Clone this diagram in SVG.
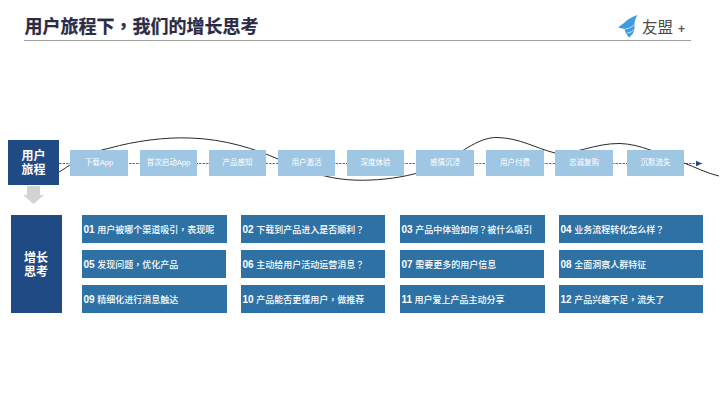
<svg xmlns="http://www.w3.org/2000/svg" width="720" height="405" viewBox="0 0 720 405">
<style>
text{font-family:"Liberation Sans","Noto Sans CJK SC",sans-serif}
.step rect{fill:#9fc7e3}
.step text{fill:#fff;font-size:7.5px;text-anchor:middle}
.q rect{fill:#2e72a5}
.q text{fill:#fff;font-size:9px;font-weight:500}
.q .n{font-weight:700;font-size:10px}
.p{font-family:"Noto Sans CJK TC",sans-serif}
.side rect{fill:#1f4a84}
.side text{fill:#fff;font-size:12px;font-weight:700;text-anchor:middle}
</style>
<defs>
<marker id="arr" markerUnits="userSpaceOnUse" markerWidth="7" markerHeight="7" refX="6" refY="3.500" orient="auto"><path d="M0 0.800L6 3.500L0 6.200Z" fill="#1f4a84"/></marker>
</defs>
<rect width="720" height="405" fill="#fff"/>
<g id="header">
<text x="24.500" y="33" font-size="18" font-weight="700" fill="#2b2b45" stroke="#2b2b45" stroke-width="0.250">用户旅程下<tspan class="p">，</tspan>我们的增长思考</text>
<line x1="24" y1="40.500" x2="691" y2="40.500" stroke="#a0a0a0" stroke-width="1"/>
</g>
<g id="logo">
<path d="M637.500 15C632 17 627 19.500 624 23L618 27.500L624.500 29C625 32 627 35 629 37.500C632.500 35 635 31 634.500 27C634 23 635 19 637.500 15Z" fill="#3f9be0"/>
<path d="M625 29C628 29 631 27.500 634 25M627 33C630 33 632.500 31.500 634.500 29" stroke="#fff" stroke-width="0.700" fill="none"/>
<text x="642" y="33" font-size="15.500" fill="#4a4a4a">友盟</text>
<text x="678" y="32.500" font-size="12" font-weight="700" fill="#555">+</text>
</g>
<g id="connectors">
<line x1="59" y1="163.500" x2="702" y2="163.500" stroke="#2b4a78" stroke-width="0.800" stroke-dasharray="2.500 1" marker-end="url(#arr)"/>
<path d="M59 172C66 168 72 163 82 158C92 153 100 150 110 148C135 141 165 137 190 138C225 139 255 149 278 159C295 166 305 172 325 176C345 181 365 181 385 179C405 177 425 172 440 165C458 155 478 137 497 137.500C520 138 535 148 555 153C575 155 595 143 620 143.500C640 144 660 154 684 163C695 167 706 173 719 176" fill="none" stroke="#2a2a2a" stroke-width="1"/>
<path d="M27 186H40V195H44L33.500 204L23 195H27Z" fill="#d3d3d3"/>
</g>
<g id="journey-label" class="side"><rect x="8" y="140" width="51" height="45"/><text x="33.500" y="160">用户</text><text x="33.500" y="174">旅程</text></g>
<g id="step-1" class="step"><rect x="70" y="150" width="58" height="26"/><text x="99" y="165">下载App</text></g>
<g id="step-2" class="step"><rect x="140" y="150" width="57" height="26"/><text x="168.500" y="165">首次启动App</text></g>
<g id="step-3" class="step"><rect x="209" y="150" width="57" height="26"/><text x="237.500" y="165">产品感知</text></g>
<g id="step-4" class="step"><rect x="278" y="150" width="57" height="26"/><text x="306.500" y="165">用户激活</text></g>
<g id="step-5" class="step"><rect x="347" y="150" width="57" height="26"/><text x="375.500" y="165">深度体验</text></g>
<g id="step-6" class="step"><rect x="416" y="150" width="58" height="26"/><text x="445" y="165">感情沉浸</text></g>
<g id="step-7" class="step"><rect x="486" y="150" width="58" height="26"/><text x="515" y="165">用户付费</text></g>
<g id="step-8" class="step"><rect x="555" y="150" width="58" height="26"/><text x="584" y="165">忠诚复购</text></g>
<g id="step-9" class="step"><rect x="627" y="150" width="57" height="26"/><text x="655.500" y="165">沉默流失</text></g>
<g id="growth-label" class="side"><rect x="11" y="215" width="51" height="98"/><text x="36" y="262">增长</text><text x="36" y="276">思考</text></g>
<g id="q01" class="q"><rect x="82" y="215" width="145" height="28"/><text x="83.500" y="233"><tspan class="n">01</tspan> 用户被哪个渠道吸引<tspan class="p">，</tspan>表现呢</text></g>
<g id="q02" class="q"><rect x="241" y="215" width="144" height="28"/><text x="242.500" y="233"><tspan class="n">02</tspan> 下载到产品进入是否顺利<tspan class="p">？</tspan></text></g>
<g id="q03" class="q"><rect x="400" y="215" width="145" height="28"/><text x="401.500" y="233"><tspan class="n">03</tspan> 产品中体验如何<tspan class="p">？</tspan>被什么吸引</text></g>
<g id="q04" class="q"><rect x="559" y="215" width="144" height="28"/><text x="560.500" y="233"><tspan class="n">04</tspan> 业务流程转化怎么样<tspan class="p">？</tspan></text></g>
<g id="q05" class="q"><rect x="82" y="250" width="144" height="28"/><text x="83.500" y="268"><tspan class="n">05</tspan> 发现问题<tspan class="p">，</tspan>优化产品</text></g>
<g id="q06" class="q"><rect x="241" y="250" width="144" height="28"/><text x="242.500" y="268"><tspan class="n">06</tspan> 主动给用户活动运营消息<tspan class="p">？</tspan></text></g>
<g id="q07" class="q"><rect x="400" y="250" width="144" height="28"/><text x="401.500" y="268"><tspan class="n">07</tspan> 需要更多的用户信息</text></g>
<g id="q08" class="q"><rect x="559" y="250" width="144" height="28"/><text x="560.500" y="268"><tspan class="n">08</tspan> 全面洞察人群特征</text></g>
<g id="q09" class="q"><rect x="82" y="285" width="145" height="28"/><text x="83.500" y="303"><tspan class="n">09</tspan> 精细化进行消息触达</text></g>
<g id="q10" class="q"><rect x="241" y="285" width="144" height="28"/><text x="242.500" y="303"><tspan class="n">10</tspan> 产品能否更懂用户<tspan class="p">，</tspan>做推荐</text></g>
<g id="q11" class="q"><rect x="400" y="285" width="145" height="28"/><text x="401.500" y="303"><tspan class="n">11</tspan> 用户爱上产品主动分享</text></g>
<g id="q12" class="q"><rect x="559" y="285" width="144" height="28"/><text x="560.500" y="303"><tspan class="n">12</tspan> 产品兴趣不足<tspan class="p">，</tspan>流失了</text></g>
</svg>
